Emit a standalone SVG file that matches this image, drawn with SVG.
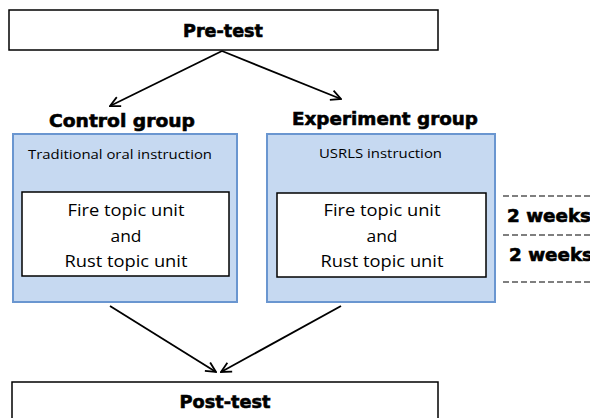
<svg xmlns="http://www.w3.org/2000/svg" width="590" height="418" viewBox="0 0 590 418">
  <defs>
    <marker id="arrow" viewBox="0 0 12 12" refX="11" refY="6" markerWidth="12" markerHeight="12" markerUnits="userSpaceOnUse" orient="auto">
      <path d="M1,1 L11,6 L1,11" fill="none" stroke="#000" stroke-width="1.8"/>
    </marker>
    <style>
      .test { fill: #fff; stroke: #000; stroke-width: 1.5; }
      .group { fill: #c6d9f1; stroke: #6a96d0; stroke-width: 2; }
      .unit { fill: #fff; stroke: #000; stroke-width: 1.5; }
      .conn { stroke: #000; stroke-width: 1.8; fill: none; }
      .dash { stroke: #000; stroke-width: 1.2; stroke-dasharray: 6 3; }
      .heavy { font-family: "DejaVu Sans", Verdana, sans-serif; font-weight: bold; fill: #000; stroke: #000; stroke-width: 0.6; }
      .title { font-size: 18px; }
      .head { font-size: 18px; }
      .weeks { font-size: 17px; }
      .small { font-family: "Open Sans", "Noto Sans", sans-serif; font-size: 12px; fill: #000; }
      .body { font-family: "Open Sans", "Noto Sans", sans-serif; font-size: 17px; fill: #000; text-anchor: middle; }
    </style>
  </defs>

  <g id="pre-test">
    <rect class="test" x="9" y="10" width="429" height="40"/>
    <text class="heavy title" x="223" y="37" text-anchor="middle" textLength="80" lengthAdjust="spacingAndGlyphs">Pre-test</text>
  </g>

  <g id="control-group">
    <text class="heavy head" x="49" y="127" textLength="146" lengthAdjust="spacingAndGlyphs">Control group</text>
    <rect class="group" x="13" y="134" width="224" height="168"/>
    <text class="small" x="28" y="159" textLength="184" lengthAdjust="spacingAndGlyphs">Traditional oral instruction</text>
    <rect class="unit" x="22" y="192" width="207" height="84"/>
    <text class="body" x="126" y="216" textLength="117" lengthAdjust="spacingAndGlyphs">Fire topic unit</text>
    <text class="body" x="126" y="242" textLength="31" lengthAdjust="spacingAndGlyphs">and</text>
    <text class="body" x="126" y="267" textLength="123" lengthAdjust="spacingAndGlyphs">Rust topic unit</text>
  </g>

  <g id="experiment-group">
    <text class="heavy head" x="292" y="125" textLength="186" lengthAdjust="spacingAndGlyphs">Experiment group</text>
    <rect class="group" x="267" y="134" width="228" height="168"/>
    <text class="small" x="319" y="158" textLength="123" lengthAdjust="spacingAndGlyphs">USRLS instruction</text>
    <rect class="unit" x="277" y="193" width="209" height="84"/>
    <text class="body" x="382" y="216" textLength="117" lengthAdjust="spacingAndGlyphs">Fire topic unit</text>
    <text class="body" x="382" y="242" textLength="31" lengthAdjust="spacingAndGlyphs">and</text>
    <text class="body" x="382" y="267" textLength="123" lengthAdjust="spacingAndGlyphs">Rust topic unit</text>
  </g>

  <g id="timeline">
    <line class="dash" x1="503" y1="196" x2="590" y2="196"/>
    <line class="dash" x1="503" y1="235" x2="590" y2="235"/>
    <line class="dash" x1="503" y1="282" x2="590" y2="282"/>
    <text class="heavy weeks" x="507" y="222" textLength="84" lengthAdjust="spacingAndGlyphs">2 weeks</text>
    <text class="heavy weeks" x="509" y="261" textLength="84" lengthAdjust="spacingAndGlyphs">2 weeks</text>
  </g>

  <g id="post-test">
    <rect class="test" x="12" y="382" width="426" height="50"/>
    <text class="heavy title" x="225" y="408" text-anchor="middle" textLength="91" lengthAdjust="spacingAndGlyphs">Post-test</text>
  </g>

  <g id="connectors">
    <line class="conn" x1="222" y1="51" x2="110" y2="106" marker-end="url(#arrow)"/>
    <line class="conn" x1="222" y1="51" x2="341" y2="99" marker-end="url(#arrow)"/>
    <line class="conn" x1="110" y1="306" x2="216" y2="372" marker-end="url(#arrow)"/>
    <line class="conn" x1="341" y1="306" x2="221" y2="372" marker-end="url(#arrow)"/>
  </g>
</svg>
